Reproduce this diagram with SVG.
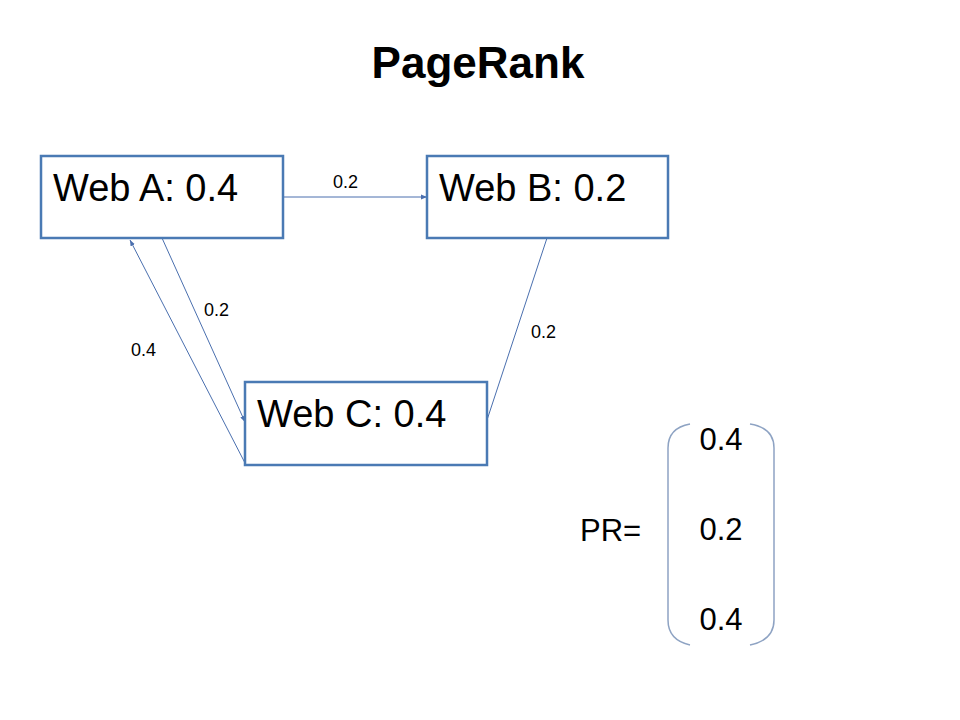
<svg xmlns="http://www.w3.org/2000/svg" width="960" height="720" viewBox="0 0 960 720">
<defs>
<style>
.box{fill:#fff;stroke:#4a7ab4;stroke-width:2.5}
.lbl{font-family:"Liberation Sans",Arial,sans-serif;font-size:38px;fill:#000}
.edge{stroke:#4a6fae;stroke-width:1;fill:none}
.el{font-family:"Liberation Sans",Arial,sans-serif;font-size:18px;fill:#000}
.pr{font-family:"Liberation Sans",Arial,sans-serif;font-size:31px;fill:#000}
.br{stroke:#8ea3c3;stroke-width:1.5;fill:none}
</style>
<marker id="ah" viewBox="0 0 10 10" refX="10" refY="5" markerWidth="6" markerHeight="6" orient="auto" markerUnits="userSpaceOnUse">
<path d="M0,1 L10,5 L0,9 z" fill="#4a6fae"/>
</marker>
</defs>
<rect width="960" height="720" fill="#fff"/>
<text x="478" y="78" text-anchor="middle" font-family="Liberation Sans,Arial,sans-serif" font-weight="bold" font-size="44">PageRank</text>
<g id="connectors">
<line class="edge" x1="283" y1="197" x2="427" y2="197" marker-end="url(#ah)"/>
<line class="edge" x1="162" y1="238" x2="245" y2="422" marker-end="url(#ah)"/>
<line class="edge" x1="245" y1="463" x2="130" y2="240" marker-end="url(#ah)"/>
<line class="edge" x1="547" y1="238" x2="487" y2="420"/>
<text class="el" x="333" y="188">0.2</text>
<text class="el" x="204" y="316">0.2</text>
<text class="el" x="131" y="356">0.4</text>
<text class="el" x="531" y="338">0.2</text>
</g>
<g id="webA">
<rect class="box" x="41" y="156" width="242" height="82"/>
<text class="lbl" x="53" y="201">Web A: 0.4</text>
</g>
<g id="webB">
<rect class="box" x="427" y="156" width="241" height="82"/>
<text class="lbl" x="439" y="201">Web B: 0.2</text>
</g>
<g id="webC">
<rect class="box" x="245" y="382" width="242" height="83"/>
<text class="lbl" x="257" y="427">Web C: 0.4</text>
</g>
<g id="pr">
<text class="pr" x="580" y="541">PR=</text>
<path class="br" d="M690,424 Q668,428 668,448 L668,620 Q668,640 690,645"/>
<path class="br" d="M750,424 Q774,428 774,448 L774,620 Q774,640 750,645"/>
<text class="pr" x="721" y="450" text-anchor="middle">0.4</text>
<text class="pr" x="721" y="540" text-anchor="middle">0.2</text>
<text class="pr" x="721" y="630" text-anchor="middle">0.4</text>
</g>
</svg>
